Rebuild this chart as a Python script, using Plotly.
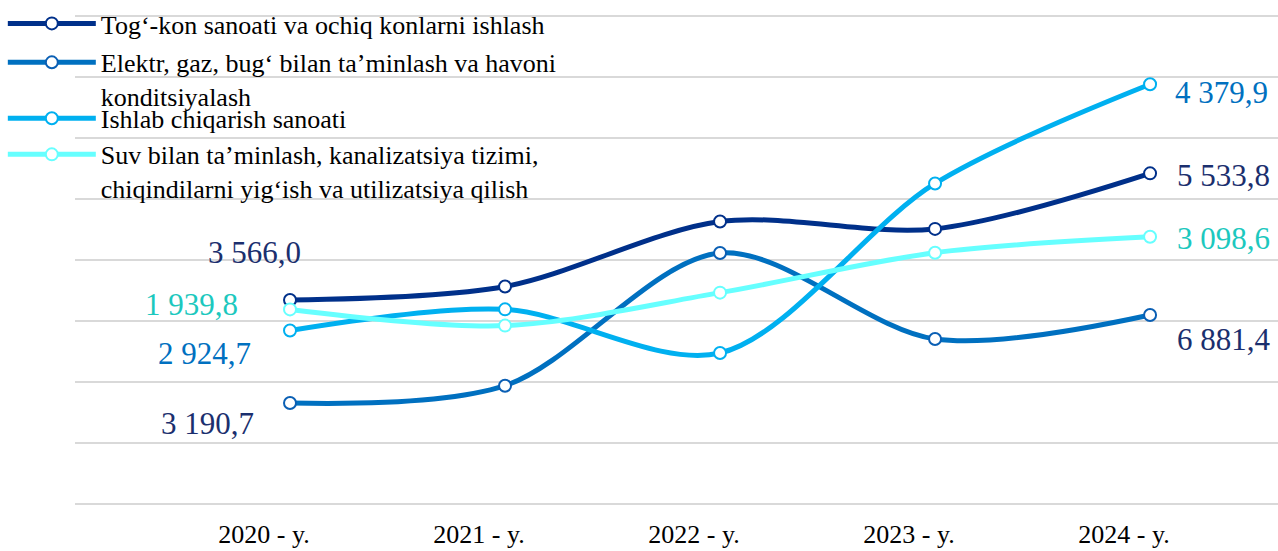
import plotly.graph_objects as go

# ---- data ----
years = ["2020 - y.", "2021 - y.", "2022 - y.", "2023 - y.", "2024 - y."]
series_names = [
    "Tog‘-kon sanoati va ochiq konlarni ishlash",
    "Elektr, gaz, bug‘ bilan ta’minlash va havoni<br>konditsiyalash",
    "Ishlab chiqarish sanoati",
    "Suv bilan ta’minlash, kanalizatsiya tizimi,<br>chiqindilarni yig‘ish va utilizatsiya qilish",
]
tog_kon = [3345, 3566.0, 4630, 4510, 5420]
elektr = [1655, 1939.8, 4115, 2705, 3098.6]
ishlab = [2845, 3190.7, 2475, 5255, 6881.4]
suv = [3190, 2924.7, 3465, 4120, 4379.9]
labels_start = ["3 566,0", "3 190,7", "2 924,7", "1 939,8"]
labels_end = ["5 533,8", "6 881,4", "4 379,9", "3 098,6"]

# ---- style ----
line_colors = ["#00308A", "#0070C0", "#00B0F0", "#66FFFF"]
marker_colors = ["#00308A", "#0A5FB4", "#00B0F0", "#66FFFF"]
label_colors = ["#1B2F6E", "#1B2F6E", "#0070C0", "#1CC8BE"]
start_xshift = [13, -34, -37, -50]
start_yshift = [47, -20, -23, 5]
end_xshift = [25, 25, 23, 25]
end_yshift = [-2, -25, -8, -2]
legend_ids = ["legend", "legend2", "legend3", "legend4"]
legend_y = [0.981, 0.867, 0.788, 0.680]
legend_valign = ["middle", "top", "middle", "top"]

SERIF = "Liberation Serif"
values = [tog_kon, elektr, ishlab, suv]

fig = go.Figure()
for i, (name, vals) in enumerate(zip(series_names, values)):
    fig.add_trace(go.Scatter(
        x=years, y=vals, name=name, mode="lines+markers",
        line=dict(color=line_colors[i], width=5, shape="spline", smoothing=0.9),
        marker=dict(size=12, color="white", line=dict(color=marker_colors[i], width=2)),
        legend=legend_ids[i], cliponaxis=False,
    ))
    fig.add_annotation(x=years[0], y=vals[0], text=labels_start[i], showarrow=False,
                       xanchor="right", yanchor="middle",
                       xshift=start_xshift[i], yshift=start_yshift[i],
                       font=dict(family=SERIF, size=31, color=label_colors[i]))
    fig.add_annotation(x=years[-1], y=vals[-1], text=labels_end[i], showarrow=False,
                       xanchor="left", yanchor="middle",
                       xshift=end_xshift[i], yshift=end_yshift[i],
                       font=dict(family=SERIF, size=31, color=label_colors[i]))

legend_common = dict(bgcolor="rgba(0,0,0,0)", font=dict(family=SERIF, size=26, color="black"),
                     itemwidth=88, xanchor="left", yanchor="middle", x=-0.06,
                     borderwidth=0, tracegroupgap=0)
layout_legends = {}
for lid, ly, va in zip(legend_ids, legend_y, legend_valign):
    layout_legends[lid] = dict(legend_common, y=ly, valign=va)

fig.update_layout(
    width=1278, height=551,
    margin=dict(l=75, r=0, t=10, b=45),
    plot_bgcolor="white", paper_bgcolor="white",
    showlegend=True,
    xaxis=dict(range=[-1, 4.595], showgrid=False, zeroline=False, showline=False,
               ticks="", tickfont=dict(family=SERIF, size=26, color="black"),
               ticklabelshift=-26, ticklabelstandoff=10),
    yaxis=dict(range=[-32.5, 8032.5], tickvals=[0, 1000, 2000, 3000, 4000, 5000, 6000, 7000, 8000],
               showgrid=True, gridcolor="#D9D9D9", gridwidth=2,
               zeroline=False, showticklabels=False, showline=False),
    **layout_legends,
)

fig.write_html("out.html", config={"displayModeBar": False},
               post_script="document.body.style.margin='0';")
